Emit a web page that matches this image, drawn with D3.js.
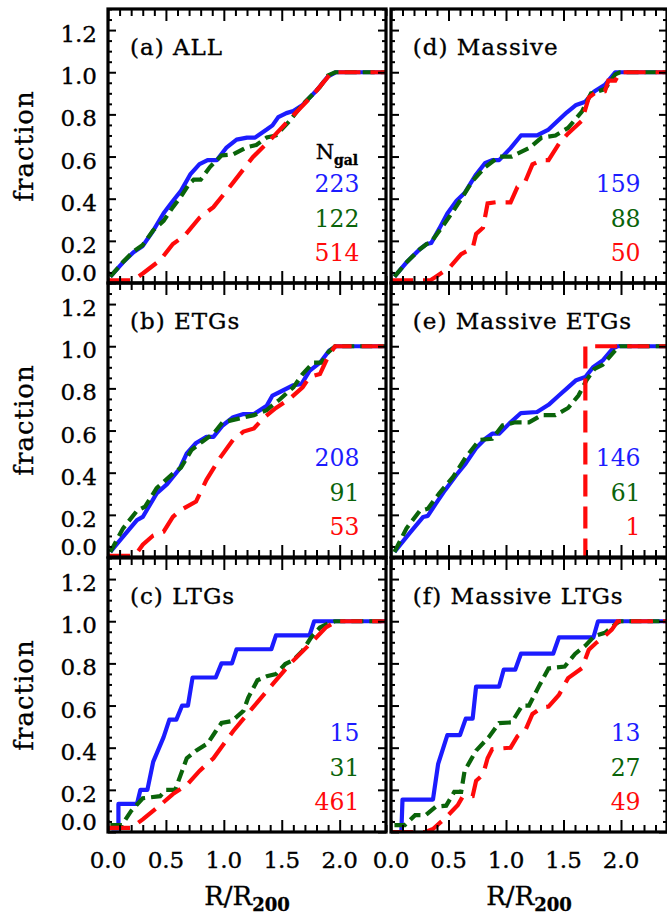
<!DOCTYPE html>
<html>
<head>
<meta charset="utf-8">
<script src="https://cdn.jsdelivr.net/npm/d3@7/dist/d3.min.js"></script>
<style>
  body { margin: 0; background: #fff; }
  svg { display: block; }
  text { font-family: "DejaVu Serif", serif; fill: #000; stroke: #000; stroke-width: 0.35px; }
</style>
</head>
<body>
<div id="chart"></div>
<script>
// panel titles and galaxy counts (blue / green / red)
const panelLabels = ["(a) ALL", "(b) ETGs", "(c) LTGs", "(d) Massive", "(e) Massive ETGs", "(f) Massive LTGs"];
const nBlue  = [223, 208, 15, 159, 146, 13];
const nGreen = [122, 91, 31, 88, 61, 27];
const nRed   = [514, 53, 461, 50, 1, 49];

const xMajor = [0, 0.5, 1.0, 1.5, 2.0];
const yMajor = [0, 0.2, 0.4, 0.6, 0.8, 1.0, 1.2];

// cumulative fractions, [R/R200, fraction]
const blueA = [[0.02,0.03],[0.13,0.098],[0.22,0.146],[0.30,0.176],[0.39,0.248],[0.48,0.331],[0.56,0.389],[0.63,0.437],[0.71,0.515],[0.79,0.564],[0.86,0.583],[0.94,0.583],[1.02,0.641],[1.11,0.68],[1.20,0.69],[1.27,0.69],[1.37,0.728],[1.42,0.748],[1.47,0.787],[1.54,0.806],[1.60,0.816],[1.68,0.845],[1.80,0.913],[1.90,0.98],[1.97,1.0],[2.4,1.0]];
const greenA = [[0.02,0.03],[0.13,0.10],[0.22,0.15],[0.30,0.18],[0.39,0.25],[0.48,0.295],[0.56,0.36],[0.63,0.41],[0.70,0.47],[0.74,0.49],[0.80,0.49],[0.88,0.55],[0.98,0.605],[1.08,0.61],[1.20,0.645],[1.28,0.655],[1.37,0.69],[1.45,0.70],[1.57,0.77],[1.66,0.835],[1.74,0.88],[1.83,0.93],[1.90,0.985],[1.96,1.0],[2.4,1.0]];
const redA = [[0,0.012],[0.2,0.012],[0.25,0.025],[0.30,0.045],[0.45,0.108],[0.56,0.185],[0.66,0.224],[0.79,0.31],[0.91,0.36],[1.08,0.476],[1.25,0.597],[1.42,0.69],[1.60,0.796],[1.77,0.893],[1.91,0.985],[1.97,1.0],[2.4,1.0]];

const blueB = [[0.02,0.024],[0.13,0.097],[0.25,0.175],[0.30,0.19],[0.42,0.302],[0.51,0.346],[0.62,0.42],[0.68,0.492],[0.76,0.541],[0.85,0.57],[0.91,0.57],[0.99,0.624],[1.08,0.663],[1.17,0.678],[1.26,0.678],[1.37,0.717],[1.42,0.766],[1.51,0.79],[1.60,0.815],[1.67,0.82],[1.74,0.883],[1.83,0.922],[1.91,0.98],[1.97,1.0],[2.4,1.0]];
const greenB = [[0.02,0.024],[0.13,0.136],[0.25,0.219],[0.32,0.239],[0.42,0.327],[0.56,0.395],[0.63,0.424],[0.72,0.507],[0.81,0.546],[0.91,0.585],[0.99,0.639],[1.14,0.658],[1.26,0.673],[1.37,0.697],[1.48,0.746],[1.60,0.805],[1.68,0.868],[1.77,0.922],[1.84,0.922],[1.90,0.971],[1.96,1.0],[2.4,1.0]];
const redB = [[0,0.005],[0.2,0.005],[0.25,0.02],[0.30,0.058],[0.39,0.102],[0.48,0.12],[0.56,0.19],[0.62,0.22],[0.76,0.263],[0.85,0.366],[0.97,0.473],[1.08,0.556],[1.17,0.595],[1.26,0.61],[1.34,0.658],[1.45,0.707],[1.57,0.751],[1.68,0.805],[1.74,0.854],[1.83,0.868],[1.90,0.951],[1.96,1.0],[2.4,1.0]];

const blueC = [[0.03,0.017],[0.09,0.017],[0.09,0.133],[0.25,0.133],[0.28,0.2],[0.34,0.2],[0.39,0.333],[0.48,0.45],[0.53,0.533],[0.59,0.533],[0.64,0.6],[0.69,0.6],[0.73,0.733],[0.93,0.733],[0.98,0.8],[1.07,0.8],[1.11,0.867],[1.41,0.867],[1.45,0.933],[1.74,0.933],[1.78,1.0],[2.4,1.0]];
const greenC = [[0.02,0.033],[0.12,0.033],[0.20,0.10],[0.30,0.16],[0.45,0.17],[0.50,0.2],[0.58,0.2],[0.64,0.29],[0.68,0.35],[0.76,0.386],[0.86,0.42],[0.93,0.478],[0.98,0.517],[1.07,0.526],[1.17,0.575],[1.21,0.637],[1.29,0.72],[1.37,0.739],[1.45,0.749],[1.53,0.797],[1.60,0.816],[1.68,0.86],[1.75,0.92],[1.83,0.97],[1.90,0.99],[1.96,1.0],[2.4,1.0]];
const redC = [[0,0.02],[0.2,0.02],[0.30,0.06],[0.45,0.127],[0.56,0.18],[0.68,0.223],[0.79,0.29],[0.91,0.35],[1.08,0.478],[1.25,0.59],[1.42,0.70],[1.57,0.797],[1.74,0.89],[1.88,0.97],[1.97,1.0],[2.4,1.0]];

const blueD = [[0.03,0.03],[0.135,0.098],[0.25,0.16],[0.31,0.185],[0.35,0.19],[0.42,0.258],[0.49,0.33],[0.57,0.39],[0.64,0.427],[0.74,0.515],[0.82,0.57],[0.88,0.583],[0.94,0.583],[1.04,0.64],[1.13,0.70],[1.27,0.70],[1.37,0.728],[1.46,0.775],[1.53,0.81],[1.61,0.845],[1.69,0.86],[1.77,0.91],[1.86,0.94],[1.95,1.0],[2.4,1.0]];
const greenD = [[0.03,0.03],[0.135,0.098],[0.25,0.16],[0.31,0.185],[0.35,0.195],[0.44,0.262],[0.54,0.34],[0.62,0.407],[0.71,0.485],[0.82,0.55],[0.94,0.60],[1.05,0.60],[1.20,0.64],[1.31,0.69],[1.43,0.70],[1.54,0.736],[1.66,0.813],[1.74,0.90],[1.86,0.92],[1.95,0.99],[1.99,1.0],[2.4,1.0]];
const redD = [[0,0.012],[0.34,0.012],[0.39,0.03],[0.51,0.074],[0.61,0.137],[0.71,0.165],[0.74,0.233],[0.80,0.262],[0.84,0.378],[0.91,0.383],[1.04,0.383],[1.10,0.456],[1.17,0.485],[1.23,0.563],[1.31,0.583],[1.37,0.583],[1.46,0.66],[1.54,0.71],[1.66,0.77],[1.72,0.88],[1.77,0.90],[1.86,0.91],[1.89,0.96],[1.95,0.96],[1.99,1.0],[2.4,1.0]];

const blueE = [[0.03,0.024],[0.16,0.112],[0.28,0.19],[0.32,0.195],[0.39,0.253],[0.47,0.317],[0.57,0.39],[0.65,0.444],[0.74,0.517],[0.82,0.561],[0.88,0.585],[0.94,0.585],[1.03,0.634],[1.13,0.683],[1.27,0.688],[1.37,0.722],[1.46,0.766],[1.53,0.80],[1.61,0.839],[1.69,0.854],[1.76,0.902],[1.84,0.932],[1.93,0.99],[1.97,1.0],[2.4,1.0]];
const greenE = [[0.03,0.024],[0.135,0.136],[0.25,0.219],[0.32,0.229],[0.42,0.302],[0.54,0.38],[0.65,0.473],[0.77,0.556],[0.88,0.561],[0.97,0.624],[1.08,0.639],[1.20,0.639],[1.31,0.673],[1.43,0.673],[1.54,0.707],[1.63,0.766],[1.70,0.839],[1.77,0.893],[1.84,0.912],[1.95,0.98],[1.99,1.0],[2.4,1.0]];
const redE = [[0,-0.005],[1.69,-0.005],[1.69,1.0],[2.4,1.0]];

const blueF = [[0.09,0.0],[0.10,0.154],[0.365,0.154],[0.41,0.323],[0.49,0.46],[0.60,0.46],[0.65,0.538],[0.71,0.538],[0.74,0.69],[0.94,0.69],[0.98,0.77],[1.08,0.77],[1.13,0.846],[1.41,0.846],[1.46,0.923],[1.76,0.923],[1.80,1.0],[2.4,1.0]];
const greenF = [[0.03,0.033],[0.12,0.033],[0.21,0.08],[0.30,0.08],[0.39,0.12],[0.48,0.125],[0.55,0.19],[0.61,0.19],[0.64,0.29],[0.74,0.386],[0.85,0.45],[0.94,0.517],[1.05,0.52],[1.14,0.60],[1.20,0.60],[1.28,0.685],[1.37,0.776],[1.51,0.785],[1.60,0.845],[1.69,0.884],[1.77,0.93],[1.86,0.945],[1.95,0.985],[1.99,1.0],[2.4,1.0]];
const redF = [[0,0.0],[0.30,0.0],[0.365,0.014],[0.48,0.07],[0.58,0.127],[0.62,0.165],[0.71,0.17],[0.74,0.243],[0.80,0.272],[0.84,0.35],[0.88,0.393],[1.04,0.40],[1.10,0.455],[1.17,0.485],[1.23,0.56],[1.31,0.59],[1.37,0.595],[1.46,0.65],[1.54,0.73],[1.66,0.777],[1.72,0.865],[1.79,0.90],[1.86,0.93],[1.92,0.96],[1.97,1.0],[2.4,1.0]];

const blueSeries  = [blueA, blueB, blueC, blueD, blueE, blueF];
const greenSeries = [greenA, greenB, greenC, greenD, greenE, greenF];
const redSeries   = [redA, redB, redC, redD, redE, redF];

const colors = { blue: "#1c1cff", green: "#0a640a", red: "#ff0a0a" };

// layout
const width = 667, height = 914;
const colRange = [[108, 386], [391, 667]];
const rowTop = [9, 283, 558];
const rowH = 274;

const svg = d3.select("#chart").append("svg")
  .attr("width", width)
  .attr("height", height);

const fmt = d3.format(".1f");

panelLabels.forEach((label, i) => {
  const col = Math.floor(i / 3), row = i % 3;
  const x = d3.scaleLinear().domain([0, 2.4]).range(colRange[col]);
  const y = d3.scaleLinear().domain([0, 1.3]).range([rowTop[row] + rowH, rowTop[row]]);

  const g = svg.append("g").attr("class", "panel");

  g.append("clipPath").attr("id", `clip${i}`)
    .append("rect")
    .attr("x", x(0)).attr("y", y(1.3))
    .attr("width", x(2.4) - x(0)).attr("height", y(0) - y(1.3));

  // curves: blue, then green, then red on top
  const line = d3.line().x(d => x(d[0])).y(d => y(d[1]));
  const curves = g.append("g").attr("clip-path", `url(#clip${i})`);
  curves.append("path").datum(blueSeries[i])
    .attr("d", line).attr("fill", "none")
    .attr("stroke", colors.blue).attr("stroke-width", 4.2)
    .attr("stroke-linejoin", "round");
  curves.append("path").datum(greenSeries[i])
    .attr("d", line).attr("fill", "none")
    .attr("stroke", colors.green).attr("stroke-width", 4.2)
    .attr("stroke-dasharray", "12,6");
  curves.append("path").datum(redSeries[i])
    .attr("d", line).attr("fill", "none")
    .attr("stroke", colors.red).attr("stroke-width", 4.2)
    .attr("stroke-dasharray", "22,10");

  // ticks pointing inward on all four sides
  const xMinor = d3.range(0, 2.41, 0.1).filter(v => Math.abs(v * 2 - Math.round(v * 2)) > 1e-6);
  const yMinor = d3.range(0, 1.301, 0.05).filter(v => Math.abs(v * 5 - Math.round(v * 5)) > 1e-6);

  const addAxis = (axis, tr) => {
    const a = g.append("g").attr("transform", tr).call(axis);
    a.select(".domain").remove();
    a.selectAll("line").attr("stroke", "#000").attr("stroke-width", 2);
    a.selectAll("text").remove();
  };
  const bottom = `translate(0,${y(0)})`, top = `translate(0,${y(1.3)})`;
  const left = `translate(${x(0)},0)`, right = `translate(${x(2.4)},0)`;
  addAxis(d3.axisBottom(x).tickValues(xMajor).tickSize(-12), bottom);
  addAxis(d3.axisBottom(x).tickValues(xMinor).tickSize(-7), bottom);
  addAxis(d3.axisTop(x).tickValues(xMajor).tickSize(-12), top);
  addAxis(d3.axisTop(x).tickValues(xMinor).tickSize(-7), top);
  addAxis(d3.axisLeft(y).tickValues(yMajor).tickSize(-8), left);
  addAxis(d3.axisLeft(y).tickValues(yMinor).tickSize(-4), left);
  addAxis(d3.axisRight(y).tickValues(yMajor).tickSize(-8), right);
  addAxis(d3.axisRight(y).tickValues(yMinor).tickSize(-4), right);

  // frame
  g.append("rect")
    .attr("x", x(0)).attr("y", y(1.3))
    .attr("width", x(2.4) - x(0)).attr("height", y(0) - y(1.3))
    .attr("fill", "none").attr("stroke", "#000").attr("stroke-width", 3.2);

  // y tick labels and title on the left column only
  if (col === 0) {
    g.selectAll(".ylab").data(yMajor).enter().append("text")
      .attr("class", "ylab")
      .attr("x", x(0) - 11)
      .attr("y", d => d === 0 ? y(d) - 2 : y(d) + 12)
      .attr("text-anchor", "end")
      .style("font-size", "23px")
      .text(d => fmt(d));

    const cy = (y(0) + y(1.3)) / 2;
    g.append("text")
      .attr("transform", `translate(33,${cy}) rotate(-90)`)
      .attr("text-anchor", "middle")
      .style("font-size", "26px")
      .style("letter-spacing", "1px")
      .text("fraction");
  }

  // x tick labels and title on the bottom row only
  if (row === 2) {
    g.selectAll(".xlab").data(xMajor).enter().append("text")
      .attr("class", "xlab")
      .attr("x", d => x(d))
      .attr("y", y(0) + 36)
      .attr("text-anchor", "middle")
      .style("font-size", "23px")
      .text(d => fmt(d));

    const t = g.append("text")
      .attr("x", (x(0) + x(2.4)) / 2)
      .attr("y", y(0) + 73)
      .attr("text-anchor", "middle")
      .style("font-size", "26px");
    t.append("tspan").text("R/R");
    t.append("tspan").attr("dy", 6).style("font-size", "18px").style("font-weight", "bold").text("200");
  }

  // panel title
  g.append("text")
    .attr("x", x(0.19))
    .attr("y", y(1.08))
    .style("font-size", "23px")
    .style("letter-spacing", "1px")
    .text(label);

  // galaxy counts
  const counts = [[nBlue[i], colors.blue, 0.431], [nGreen[i], colors.green, 0.265], [nRed[i], colors.red, 0.104]];
  g.selectAll(".count").data(counts).enter().append("text")
    .attr("class", "count")
    .attr("x", x(2.17))
    .attr("y", d => y(d[2]))
    .attr("text-anchor", "end")
    .style("font-size", "23.5px")
    .style("fill", d => d[1])
    .style("stroke", "none")
    .text(d => d[0]);

  if (i === 0) {
    const n = g.append("text")
      .attr("x", x(2.16))
      .attr("y", y(0.59))
      .attr("text-anchor", "end")
      .style("font-size", "21px");
    n.append("tspan").text("N");
    n.append("tspan").attr("dy", 6).style("font-size", "14px").style("font-weight", "bold").text("gal");
  }
});
</script>
</body>
</html>
